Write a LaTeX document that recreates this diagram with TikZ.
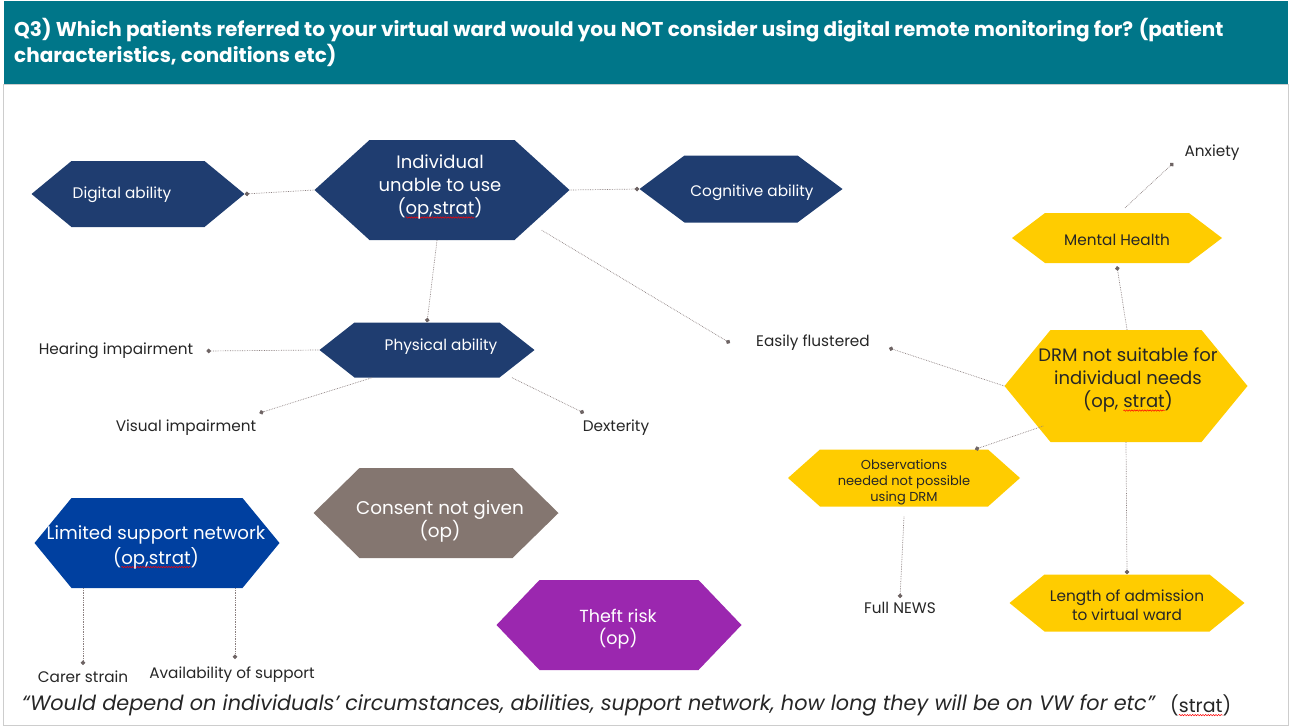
\documentclass[tikz,border=0pt]{standalone}
\usepackage{fontspec}
\setmainfont{Poppins}
\usetikzlibrary{arrows.meta,decorations.pathmorphing}

\definecolor{banner}{RGB}{0,118,137}
\definecolor{navy}{RGB}{31,61,112}
\definecolor{royal}{RGB}{0,64,160}
\definecolor{amber}{RGB}{255,204,0}
\definecolor{taupe}{RGB}{132,118,112}
\definecolor{plum}{RGB}{155,39,175}
\definecolor{ink}{RGB}{38,38,38}
\definecolor{linkgrey}{RGB}{140,128,128}
\definecolor{dotgrey}{RGB}{110,100,100}
\definecolor{framegrey}{RGB}{205,205,205}

% red spell-check squiggle under a word
\newsavebox{\squigbox}
\newcommand{\squig}[1]{\sbox{\squigbox}{#1}\rlap{\tikz[baseline=0pt,overlay,x=1pt,y=1pt]
  \draw[red, line width=0.5pt, decorate, decoration={snake, amplitude=0.7pt, segment length=2.6pt}]
  (0pt,-3pt) -- (\wd\squigbox,-3pt);}\usebox{\squigbox}}

\tikzset{
  hexfill/.code={\def\hexfill{#1}}, hexfill=navy,
  hexcut/.code={\def\hexcut{#1}}, hexcut=35pt,
  hexa/.style 2 args={minimum width=#1, minimum height=#2, inner sep=0pt,
    path picture={\fill[fill=\hexfill] (path picture bounding box.west)
      -- ([xshift=\hexcut]path picture bounding box.north west)
      -- ([xshift=-\hexcut]path picture bounding box.north east)
      -- (path picture bounding box.east)
      -- ([xshift=-\hexcut]path picture bounding box.south east)
      -- ([xshift=\hexcut]path picture bounding box.south west) -- cycle;}},
  hextext/.style={align=center, inner sep=0pt, text=white},
  small/.style={font=\fontsize{15.3}{18}\selectfont},
  big/.style={font=\fontsize{18}{23}\selectfont},
  link/.style={draw=linkgrey, densely dotted, line width=0.7pt, -{Circle[length=4.5pt,color=dotgrey]}},
  lbl/.style={text=ink, font=\fontsize{15.3}{18}\selectfont, inner sep=1pt},
}

\begin{document}
\begin{tikzpicture}[x=1pt,y=-1pt]
\useasboundingbox (0,0) rectangle (1290,726);
% slide frame and title bar
\draw[framegrey, line width=0.8pt] (3,84) rectangle (1288,725);
\fill[banner] (4,1) rectangle (1288,84);
\node[anchor=north west, text=white, font=\bfseries\fontsize{20}{26}\selectfont, align=left, inner sep=0pt] (title) at (14,18)
  {Q3) Which patients referred to your virtual ward would you NOT consider using digital remote monitoring for? (patient\\characteristics, conditions etc)};

% unable to use the kit
\node[hexa={255pt}{100pt}, hexcut=55pt] (indiv) at (442,190) {};
\node[hextext, big] (indivtxt) at (440,187) {Individual\\unable to use\\(\squig{op,strat})};
\node[hexa={213pt}{66pt}, hexcut=40pt] (digital) at (138,194) {};
\node[hextext, small] (digitaltxt) at (122,195) {Digital ability};
\node[hexa={203pt}{67pt}, hexcut=45pt] (cognit) at (741,189) {};
\node[hextext, small] (cognittxt) at (752,193) {Cognitive ability};
\node[hexa={215pt}{55pt}, hexcut=35pt] (physical) at (427,350) {};
\node[hextext, small] (physicaltxt) at (441,347) {Physical ability};

\node[lbl] (hearing) at (116,351) {Hearing impairment};
\node[lbl] (visual) at (186,428) {Visual impairment};
\node[lbl] (dexterity) at (616,428) {Dexterity};
\node[lbl] (flustered) at (813,343) {Easily flustered};

% DRM not suitable
\node[hexa={243pt}{112pt}, hexcut=46pt, hexfill=amber] (drm) at (1126,386) {};
\node[hextext, big, text=ink] (drmtxt) at (1128,380) {DRM not suitable for\\individual needs\\(op, \squig{strat})};
\node[hexa={210pt}{50pt}, hexcut=33pt, hexfill=amber] (mental) at (1117,238) {};
\node[hextext, small, text=ink] (mentaltxt) at (1117,240) {Mental Health};
\node[hexa={232pt}{57pt}, hexcut=32pt, hexfill=amber] (obs) at (904,478) {};
\node[hextext, text=ink, font=\fontsize{13}{16}\selectfont] (obstxt) at (904,482) {Observations\\needed not possible\\using DRM};
\node[hexa={235pt}{57pt}, hexcut=35pt, hexfill=amber] (length) at (1127,603) {};
\node[hextext, text=ink, font=\fontsize{15.3}{19}\selectfont] (lengthtxt) at (1127,605) {Length of admission\\to virtual ward};
\node[lbl] (anxiety) at (1212,153) {Anxiety};
\node[lbl] (fullnews) at (900,608) {Full NEWS};

% the rest
\node[hexa={245pt}{90pt}, hexcut=37pt, hexfill=royal] (limited) at (157,543) {};
\node[hextext, font=\fontsize{18.2}{25}\selectfont] (limitedtxt) at (156,547) {Limited support network\\(\squig{op,strat})};
\node[hexa={245pt}{90pt}, hexcut=46pt, hexfill=taupe] (consent) at (436,513) {};
\node[hextext, font=\fontsize{18.4}{22}\selectfont] (consenttxt) at (440,521) {Consent not given\\(op)};
\node[hexa={245pt}{90pt}, hexcut=43pt, hexfill=plum] (theft) at (619,625) {};
\node[hextext, font=\fontsize{17.5}{22}\selectfont] (thefttxt) at (618,629) {Theft risk\\(op)};
\node[lbl] (carer) at (83,677) {Carer strain};
\node[lbl] (avail) at (232,675) {Availability of support};

% links
\draw[link] (indiv.west) -- (digital.east);
\draw[link] (indiv.east) -- (cognit.west);
\draw[link] ([xshift=-5pt]indiv.south) -- (physical.north);
\draw[link] ([xshift=-28pt,yshift=10pt]indiv.south east) -- ([xshift=-25pt]flustered.west);
\draw[link] (physical.west) -- ([xshift=12pt]hearing.east);
\draw[link] ([xshift=-55pt]physical.south) -- ([xshift=2pt,yshift=6pt]visual.north east);
\draw[link] ([xshift=85pt]physical.south) -- ([xshift=-32pt,yshift=6pt]dexterity.north);
\draw[link] (drm.west) -- ([xshift=18pt,yshift=-5pt]flustered.east);
\draw[link] ([xshift=1pt]drm.north) -- ([yshift=-3pt]mental.south);
\draw[link] ([xshift=8pt,yshift=5pt]mental.north) -- ([xshift=-10pt,yshift=-10pt]anxiety.west);
\draw[link] ([xshift=39pt,yshift=-40pt]drm.west) -- ([xshift=71pt]obs.north);
\draw[link] (drm.south) -- (length.north);
\draw[link] ([yshift=-10pt]obs.south) -- ([yshift=3pt]fullnews.north);
\draw[link] ([xshift=-74pt]limited.south) -- ([yshift=5pt]carer.north);
\draw[link] ([xshift=78pt]limited.south) -- ([xshift=3pt,yshift=7pt]avail.north);

% closing quote
\node[anchor=west, text=ink, font=\itshape\fontsize{20.8}{24}\selectfont, inner sep=0pt] (quote) at (22,705)
  {“Would depend on individuals' circumstances, abilities, support network, how long they will be on VW for etc”};
\node[anchor=west, text=ink, font=\fontsize{19}{24}\selectfont, inner sep=0pt] (stratnote) at (1170,705) {(\squig{strat})};
\end{tikzpicture}
\end{document}
